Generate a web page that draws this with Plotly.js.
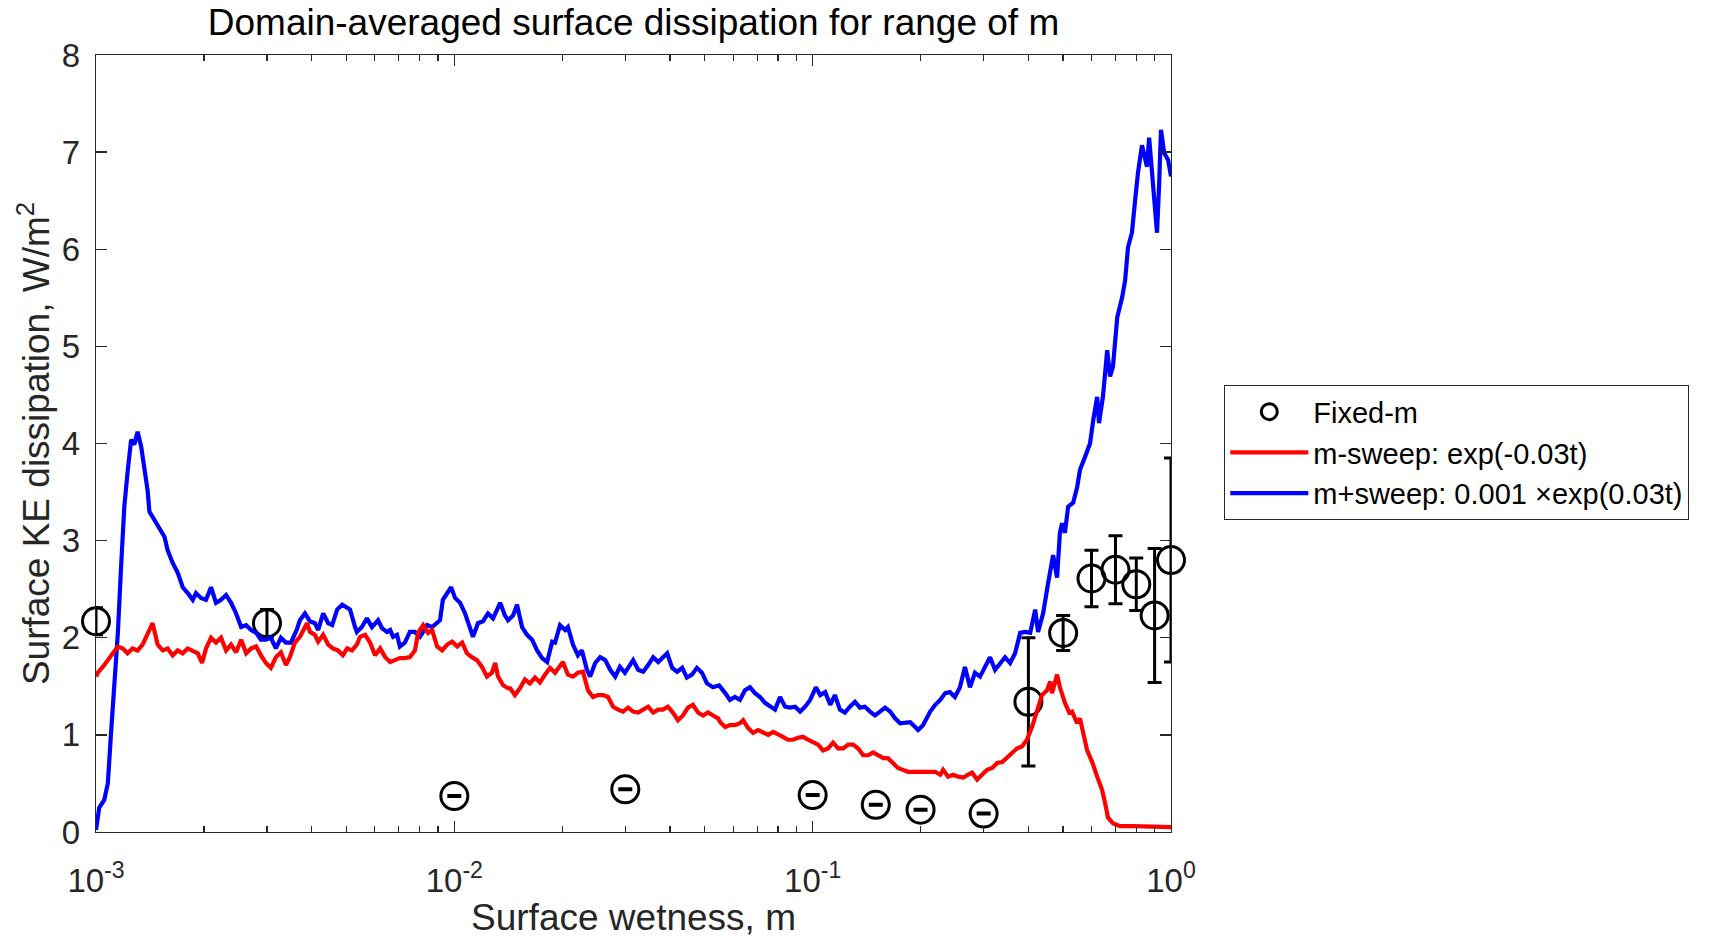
<!DOCTYPE html>
<html>
<head>
<meta charset="utf-8">
<script src="https://cdn.plot.ly/plotly-3.0.1.min.js"></script>
<style>html,body{margin:0;padding:0;background:#fff;}#chart{width:1713px;height:938px;}</style>
</head>
<body>
<div id="chart"></div>
<script>
// ---- Data (x as log10 of surface wetness m) ----
const fixedM   = [0.001, 0.003, 0.01, 0.03, 0.1, 0.15, 0.2, 0.3, 0.4, 0.5, 0.6, 0.7, 0.8, 0.9, 1.0];
const fixedVal = [2.17, 2.15, 0.37, 0.44, 0.38, 0.28, 0.23, 0.19, 1.34, 2.05, 2.61, 2.70, 2.55, 2.23, 2.80];
const fixedErr = [0.14, 0.14, 0.005, 0.005, 0.005, 0.005, 0.005, 0.005, 0.66, 0.18, 0.29, 0.35, 0.27, 0.69, 1.05];

const redLog10M = [-3.000,-2.995,-2.981,-2.967,-2.953,-2.939,-2.925,-2.912,-2.898,-2.884,-2.870,-2.856,-2.842,-2.828,-2.814,-2.800,-2.786,-2.772,-2.758,-2.744,-2.730,-2.716,-2.704,-2.693,-2.679,-2.665,-2.651,-2.637,-2.623,-2.609,-2.595,-2.581,-2.567,-2.553,-2.540,-2.526,-2.512,-2.498,-2.484,-2.470,-2.459,-2.445,-2.431,-2.417,-2.411,-2.403,-2.389,-2.380,-2.366,-2.352,-2.339,-2.325,-2.311,-2.299,-2.286,-2.272,-2.263,-2.249,-2.235,-2.221,-2.207,-2.193,-2.179,-2.166,-2.152,-2.138,-2.124,-2.110,-2.101,-2.087,-2.073,-2.062,-2.048,-2.034,-2.020,-2.006,-1.992,-1.978,-1.965,-1.951,-1.937,-1.923,-1.909,-1.895,-1.886,-1.878,-1.864,-1.850,-1.844,-1.831,-1.817,-1.803,-1.789,-1.775,-1.761,-1.747,-1.733,-1.719,-1.705,-1.697,-1.683,-1.669,-1.655,-1.641,-1.627,-1.613,-1.599,-1.585,-1.571,-1.557,-1.543,-1.529,-1.515,-1.501,-1.487,-1.473,-1.459,-1.445,-1.431,-1.418,-1.404,-1.390,-1.376,-1.362,-1.348,-1.334,-1.320,-1.306,-1.292,-1.278,-1.264,-1.258,-1.244,-1.231,-1.217,-1.203,-1.194,-1.180,-1.166,-1.152,-1.138,-1.124,-1.110,-1.097,-1.083,-1.069,-1.055,-1.041,-1.027,-1.013,-0.999,-0.985,-0.971,-0.957,-0.943,-0.929,-0.915,-0.901,-0.887,-0.873,-0.859,-0.845,-0.831,-0.817,-0.803,-0.790,-0.776,-0.762,-0.748,-0.734,-0.720,-0.706,-0.692,-0.678,-0.672,-0.658,-0.644,-0.636,-0.622,-0.608,-0.594,-0.580,-0.566,-0.555,-0.541,-0.527,-0.513,-0.499,-0.485,-0.471,-0.457,-0.443,-0.430,-0.416,-0.402,-0.388,-0.374,-0.360,-0.346,-0.337,-0.332,-0.318,-0.310,-0.296,-0.284,-0.276,-0.262,-0.254,-0.234,-0.220,-0.206,-0.192,-0.184,-0.176,-0.162,-0.142,-0.106,-0.067,-0.030,-0.005,0.000];
const redVal = [1.60,1.64,1.70,1.77,1.85,1.91,1.89,1.84,1.89,1.87,1.93,2.05,2.15,1.93,1.87,1.89,1.82,1.87,1.84,1.89,1.87,1.84,1.74,1.89,2.00,1.95,2.00,1.87,1.93,1.85,1.98,1.84,1.89,1.91,1.82,1.74,1.69,1.80,1.85,1.72,1.80,1.95,2.01,2.11,2.15,2.06,2.03,1.96,2.03,1.93,1.89,1.87,1.82,1.89,1.87,1.93,2.01,2.03,1.95,1.82,1.89,1.80,1.75,1.77,1.79,1.79,1.80,1.87,2.05,2.13,2.05,2.08,1.91,1.87,1.93,1.96,1.91,1.95,1.84,1.80,1.77,1.70,1.60,1.64,1.74,1.60,1.51,1.48,1.48,1.41,1.48,1.57,1.53,1.59,1.54,1.62,1.69,1.64,1.70,1.75,1.62,1.60,1.64,1.65,1.46,1.39,1.41,1.41,1.39,1.29,1.26,1.24,1.28,1.24,1.23,1.26,1.29,1.23,1.26,1.26,1.29,1.23,1.15,1.20,1.28,1.31,1.23,1.20,1.23,1.20,1.17,1.13,1.08,1.10,1.10,1.12,1.15,1.07,1.02,1.05,1.03,1.00,1.03,1.00,0.98,0.95,0.95,0.97,0.98,0.95,0.93,0.90,0.84,0.86,0.92,0.86,0.86,0.90,0.90,0.86,0.79,0.79,0.82,0.79,0.76,0.76,0.71,0.66,0.64,0.62,0.62,0.62,0.61,0.62,0.61,0.62,0.59,0.64,0.57,0.59,0.57,0.56,0.59,0.61,0.54,0.59,0.64,0.66,0.71,0.72,0.77,0.82,0.86,0.88,0.95,1.08,1.26,1.41,1.46,1.55,1.43,1.62,1.49,1.33,1.23,1.24,1.12,1.17,0.84,0.72,0.57,0.43,0.30,0.15,0.09,0.06,0.06,0.06,0.06,0.05,0.05];

const blueLog10M = [-3.000,-2.999,-2.995,-2.991,-2.977,-2.967,-2.958,-2.949,-2.939,-2.930,-2.921,-2.912,-2.902,-2.893,-2.884,-2.874,-2.865,-2.856,-2.851,-2.837,-2.823,-2.809,-2.800,-2.786,-2.772,-2.758,-2.744,-2.730,-2.721,-2.707,-2.693,-2.679,-2.665,-2.651,-2.637,-2.623,-2.609,-2.595,-2.581,-2.567,-2.553,-2.540,-2.526,-2.512,-2.498,-2.484,-2.470,-2.456,-2.440,-2.431,-2.417,-2.403,-2.389,-2.380,-2.366,-2.352,-2.341,-2.327,-2.313,-2.299,-2.291,-2.277,-2.272,-2.258,-2.244,-2.230,-2.213,-2.202,-2.188,-2.179,-2.171,-2.160,-2.152,-2.138,-2.124,-2.110,-2.096,-2.087,-2.076,-2.062,-2.048,-2.040,-2.032,-2.020,-2.009,-1.998,-1.984,-1.970,-1.956,-1.948,-1.934,-1.920,-1.906,-1.892,-1.872,-1.859,-1.850,-1.836,-1.825,-1.811,-1.797,-1.783,-1.769,-1.755,-1.741,-1.727,-1.719,-1.705,-1.691,-1.683,-1.669,-1.655,-1.644,-1.630,-1.621,-1.607,-1.593,-1.579,-1.565,-1.551,-1.538,-1.524,-1.515,-1.501,-1.487,-1.473,-1.459,-1.445,-1.431,-1.418,-1.406,-1.392,-1.378,-1.364,-1.351,-1.337,-1.323,-1.309,-1.295,-1.278,-1.261,-1.244,-1.231,-1.217,-1.203,-1.189,-1.175,-1.161,-1.147,-1.133,-1.119,-1.105,-1.091,-1.077,-1.063,-1.049,-1.035,-1.021,-1.007,-0.991,-0.979,-0.965,-0.951,-0.938,-0.924,-0.910,-0.896,-0.882,-0.868,-0.854,-0.840,-0.826,-0.812,-0.798,-0.784,-0.770,-0.756,-0.742,-0.728,-0.714,-0.706,-0.692,-0.686,-0.672,-0.658,-0.644,-0.630,-0.617,-0.603,-0.589,-0.575,-0.561,-0.547,-0.533,-0.519,-0.505,-0.491,-0.477,-0.463,-0.449,-0.435,-0.421,-0.407,-0.393,-0.379,-0.371,-0.357,-0.343,-0.329,-0.318,-0.310,-0.304,-0.296,-0.287,-0.273,-0.262,-0.254,-0.240,-0.226,-0.217,-0.206,-0.201,-0.190,-0.178,-0.170,-0.162,-0.150,-0.136,-0.128,-0.120,-0.109,-0.100,-0.092,-0.081,-0.072,-0.067,-0.061,-0.053,-0.044,-0.039,-0.033,-0.028,-0.019,-0.008,0.000];
const blueVal = [0.02,0.05,0.15,0.25,0.33,0.50,1.02,1.53,2.05,2.73,3.35,3.70,4.04,3.99,4.12,3.97,3.73,3.52,3.30,3.21,3.11,3.04,2.90,2.77,2.67,2.52,2.46,2.39,2.46,2.41,2.39,2.52,2.36,2.39,2.44,2.36,2.25,2.11,2.13,2.08,2.05,1.98,1.98,2.00,1.89,2.00,1.95,1.95,2.08,2.18,2.25,2.17,2.15,2.08,2.25,2.15,2.13,2.29,2.34,2.31,2.29,2.11,2.06,2.11,2.20,2.11,2.18,2.10,2.06,2.08,2.01,2.03,1.91,1.95,2.06,2.06,2.01,2.06,2.13,2.11,2.15,2.18,2.39,2.46,2.52,2.41,2.36,2.25,2.08,2.01,2.15,2.17,2.25,2.20,2.36,2.23,2.18,2.23,2.34,2.11,2.03,1.98,1.87,1.79,1.75,1.96,1.95,2.13,2.08,2.11,1.93,1.82,1.87,1.67,1.60,1.74,1.80,1.77,1.67,1.60,1.70,1.64,1.69,1.77,1.67,1.65,1.72,1.80,1.75,1.80,1.84,1.69,1.65,1.69,1.59,1.62,1.69,1.64,1.53,1.49,1.51,1.43,1.36,1.39,1.36,1.46,1.49,1.43,1.39,1.33,1.29,1.26,1.39,1.29,1.28,1.29,1.24,1.29,1.36,1.49,1.41,1.44,1.31,1.41,1.26,1.23,1.29,1.34,1.28,1.29,1.24,1.20,1.24,1.28,1.24,1.17,1.12,1.12,1.13,1.08,1.05,1.10,1.15,1.24,1.31,1.36,1.43,1.44,1.39,1.49,1.70,1.49,1.64,1.60,1.70,1.80,1.67,1.74,1.80,1.74,1.84,2.05,2.06,2.05,2.29,2.06,2.25,2.56,2.85,2.62,3.08,3.18,3.08,3.35,3.39,3.55,3.73,3.86,4.00,4.24,4.48,4.21,4.48,4.96,4.69,4.79,5.30,5.51,5.68,6.02,6.17,6.51,6.79,7.07,6.95,6.85,7.15,6.79,6.37,6.17,6.68,7.23,6.99,6.92,6.75];

const xTickVals  = [0.001, 0.01, 0.1, 1];
const xTickText  = ['10<sup>-3</sup>', '10<sup>-2</sup>', '10<sup>-1</sup>', '10<sup>0</sup>'];
const xMinorVals = [0.002,0.003,0.004,0.005,0.006,0.007,0.008,0.009,0.02,0.03,0.04,0.05,0.06,0.07,0.08,0.09,0.2,0.3,0.4,0.5,0.6,0.7,0.8,0.9];
const yTickVals  = [0, 1, 2, 3, 4, 5, 6, 7, 8];

const seriesNames = ['Fixed-m', 'm-sweep: exp(-0.03t)', 'm+sweep: 0.001 \u00d7exp(0.03t)'];

const fromLog = arr => arr.map(v => Math.pow(10, v));
const AX = '#262626';
const FONT = 'Liberation Sans, Arial, Helvetica, sans-serif';

const traces = [
  {
    x: fixedM, y: fixedVal, name: seriesNames[0], type: 'scatter', mode: 'markers',
    marker: {symbol: 'circle-open', size: 27, color: '#000', line: {width: 3, color: '#000'}},
    error_y: {type: 'data', array: fixedErr, visible: true, color: '#000', thickness: 3, width: 7},
    cliponaxis: false,
    legendrank: 1
  },
  {
    x: fromLog(blueLog10M), y: blueVal, name: seriesNames[2], type: 'scatter', mode: 'lines',
    line: {color: '#0000ff', width: 4.2}, legendrank: 3
  },
  {
    x: fromLog(redLog10M), y: redVal, name: seriesNames[1], type: 'scatter', mode: 'lines',
    line: {color: '#ff0000', width: 4.2}, legendrank: 2
  }
];

const layout = {
  width: 1713, height: 938,
  margin: {l: 96, r: 542, t: 55, b: 106, pad: 0},
  paper_bgcolor: '#fff', plot_bgcolor: '#fff',
  font: {family: FONT, color: AX, size: 33},
  showlegend: true,
  title: {
    text: 'Domain-averaged surface dissipation for range of m',
    font: {family: FONT, size: 37, color: '#000'},
    x: 0.5, xref: 'paper', xanchor: 'center',
    y: 1 - 22/938, yref: 'container', yanchor: 'middle'
  },
  xaxis: {
    type: 'log', range: [-3, 0], autorange: false,
    tickmode: 'array', tickvals: xTickVals, ticktext: xTickText,
    ticks: 'inside', ticklen: 11, tickwidth: 1.3, tickcolor: AX,
    showline: true, linecolor: AX, linewidth: 1.3, mirror: 'ticks',
    showgrid: false, zeroline: false,
    tickfont: {family: FONT, size: 33, color: AX},
    ticklabelstandoff: 19,
    minor: {tickmode: 'array', tickvals: xMinorVals, ticks: 'inside', ticklen: 6, tickwidth: 1.3, tickcolor: AX, showgrid: false},
    title: {text: 'Surface wetness, m', font: {family: FONT, size: 37, color: AX}, standoff: 24},
    automargin: false
  },
  yaxis: {
    range: [0, 8], autorange: false,
    tickmode: 'array', tickvals: yTickVals,
    ticks: 'inside', ticklen: 11, tickwidth: 1.3, tickcolor: AX,
    showline: true, linecolor: AX, linewidth: 1.3, mirror: 'ticks',
    showgrid: false, zeroline: false,
    tickfont: {family: FONT, size: 33, color: AX},
    ticklabelstandoff: 8,
    title: {text: 'Surface KE dissipation, W/m<sup>2</sup>', font: {family: FONT, size: 37, color: AX}, standoff: 0},
    automargin: false
  },
  legend: {
    x: (1224 - 96) / 1075, y: (832 - 385) / 777, xanchor: 'left', yanchor: 'top',
    bgcolor: '#fff', bordercolor: AX, borderwidth: 1.3,
    font: {family: FONT, size: 29, color: '#000'},
    itemwidth: 78, tracegroupgap: 0, traceorder: 'normal'
  }
};

Plotly.newPlot('chart', traces, layout, {displayModeBar: false, staticPlot: true});
</script>
</body>
</html>
